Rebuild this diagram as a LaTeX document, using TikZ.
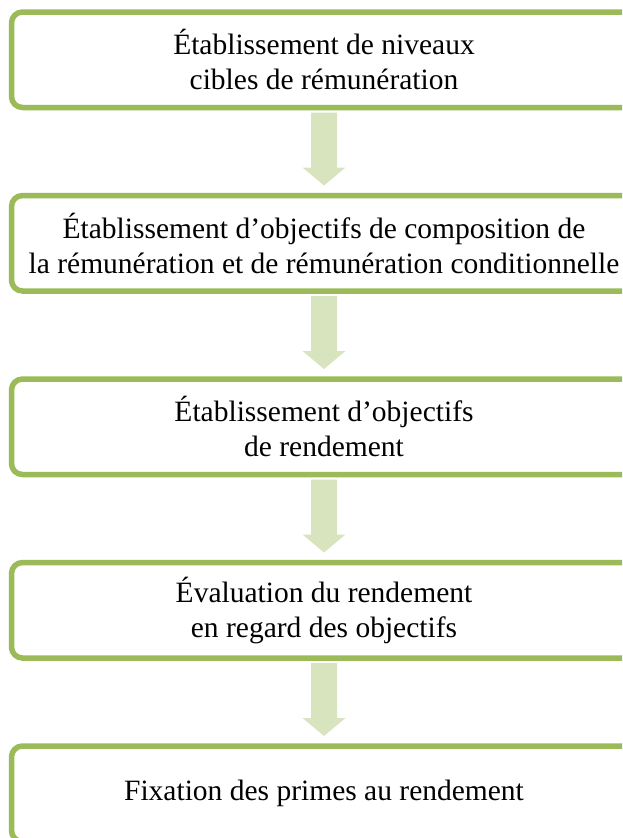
\documentclass[tikz,border=0pt]{standalone}
\usepackage{fontspec}
\setmainfont{Liberation Serif}
\usetikzlibrary{positioning,calc}
\definecolor{vertbord}{HTML}{9BBB59}
\definecolor{vertclair}{HTML}{D7E4BD}
\tikzset{etape/.style={draw=vertbord, line width=5.5pt, rounded corners=11pt, outer sep=0pt,
  minimum width=625pt, minimum height=95.5pt, align=center, inner sep=0pt,
  font=\fontsize{29.5}{35}\selectfont}}
% fleche pleine entre deux etapes
\newcommand{\flechebas}[2]{%
\fill[vertclair] ($(#1.south)+(-13pt,-5pt)$) -- ($(#1.south)+(13pt,-5pt)$)
 -- ($(#2.north)+(13pt,28pt)$) -- ($(#2.north)+(21.5pt,28pt)$)
 -- ($(#2.north)+(0pt,10pt)$) -- ($(#2.north)+(-21.5pt,28pt)$)
 -- ($(#2.north)+(-13pt,28pt)$) -- cycle;}
\begin{document}
\begin{tikzpicture}[node distance=88pt]
\clip (0pt,0pt) rectangle (622pt,-838pt);
\node[etape] (cibles) at (324pt,-59.75pt) {Établissement de niveaux\\cibles de rémunération};
\node[etape, below=of cibles] (compo) {Établissement d’objectifs de composition de\\la rémunération et de rémunération conditionnelle};
\node[etape, below=of compo] (objrend) {Établissement d’objectifs\\de rendement};
\node[etape, below=of objrend] (eval) {Évaluation du rendement\\en regard des objectifs};
\node[etape, below=of eval] (primes) {Fixation des primes au rendement};
\flechebas{cibles}{compo}
\flechebas{compo}{objrend}
\flechebas{objrend}{eval}
\flechebas{eval}{primes}
\end{tikzpicture}
\end{document}
